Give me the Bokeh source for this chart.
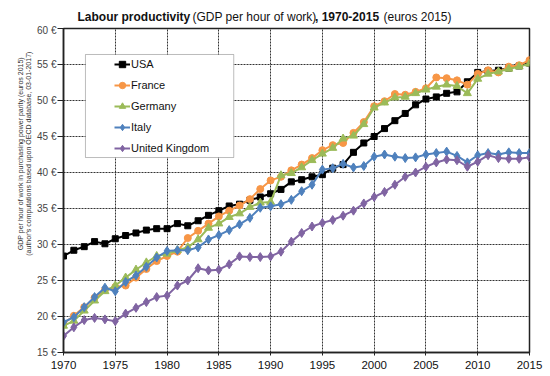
from bokeh.plotting import figure
from bokeh.layouts import column, row
from bokeh.models import (Range1d, SingleIntervalTicker, PrintfTickFormatter, Legend, LegendItem,
                          BoxAnnotation)
from bokeh.core.properties import value
from bokeh.embed import file_html
from bokeh.resources import INLINE

years = list(range(1970, 2016))

usa = [28.4, 29.2, 29.7, 30.4, 30.1, 30.8, 31.25, 31.6, 32.0, 32.2,
       32.2, 32.9, 32.6, 33.3, 34.05, 34.7, 35.35, 35.6, 36.15, 36.6,
       37.05, 37.65, 38.7, 39.0, 39.4, 39.7, 40.6, 41.1, 42.8, 44.1,
       45.0, 46.1, 47.2, 48.2, 49.4, 50.2, 50.5, 51.0, 51.2, 52.6,
       53.9, 54.1, 54.2, 54.5, 54.8, 55.2]
france = [19.0, 20.1, 21.3, 22.6, 23.7, 24.1, 24.3, 25.4, 26.6, 27.7,
          28.4, 29.0, 30.9, 31.9, 32.9, 33.9, 34.7, 35.4, 36.3, 37.7,
          38.9, 39.4, 40.3, 41.1, 42.0, 43.1, 43.8, 44.1, 45.5, 47.0,
          49.2, 49.9, 50.9, 50.8, 51.2, 51.7, 53.2, 53.1, 52.8, 52.2,
          53.7, 54.2, 53.9, 54.7, 54.9, 55.6]
germany = [18.7, 19.4, 20.8, 22.2, 23.5, 24.3, 25.4, 26.5, 27.5, 28.4,
           28.7, 29.2, 29.6, 30.7, 32.3, 32.9, 33.8, 34.3, 35.2, 35.8,
           35.9, 39.6, 39.9, 40.7, 41.7, 42.6, 43.4, 44.7, 45.1, 46.7,
           49.0, 49.7, 50.4, 50.5, 51.0, 51.5, 51.9, 52.2, 52.0, 51.0,
           53.0, 53.7, 54.0, 54.4, 54.7, 55.1]
italy = [19.2, 19.9, 21.3, 22.7, 24.0, 23.5, 24.8, 25.7, 26.9, 28.2,
         29.1, 29.2, 29.2, 29.6, 30.7, 31.3, 32.0, 32.8, 33.7, 35.1,
         35.3, 35.6, 36.2, 37.4, 38.3, 40.4, 40.6, 41.2, 40.7, 40.9,
         42.2, 42.5, 42.2, 42.0, 42.1, 42.5, 42.7, 42.9, 42.3, 41.4,
         42.4, 42.7, 42.5, 42.8, 42.7, 42.7]
uk = [17.3, 18.5, 19.5, 19.8, 19.6, 19.35, 20.4, 21.2, 22.0, 22.7,
      22.9, 24.3, 25.0, 26.7, 26.4, 26.5, 27.25, 28.35, 28.25, 28.25,
      28.35, 29.0, 30.4, 31.6, 32.5, 33.0, 33.4, 34.0, 34.7, 35.7,
      36.6, 37.3, 38.3, 39.4, 40.0, 40.8, 41.4, 41.8, 41.7, 40.8,
      41.5, 42.4, 42.0, 41.9, 41.9, 42.1]

series_names = ["USA", "France", "Germany", "Italy", "United Kingdom"]
series_values = [usa, france, germany, italy, uk]
series_colors = ["#000000", "#F79646", "#9BBB59", "#4F81BD", "#8064A2"]
series_markers = ["square", "circle", "triangle", "diamond", "diamond"]
series_sizes = [6, 7, 8, 9, 9]

title_texts = ["Labour productivity", "(GDP per hour of work)", ", 1970-2015", "(euros 2015)"]
title_styles = ["bold", "normal", "bold", "normal"]
ylab_texts = ["GDP per hour of work in purchasing power parity (euros 2015)",
              "(author's computations based upon OECD database, 03-01-2017)"]

FONT = "Liberation Sans"
W, H = 550, 376
TH = 24          # title strip height
LW = 34          # left strip width (rotated axis title)
PH = H - TH
PW = W - LW


def blank(width, height):
    f = figure(width=width, height=height, output_backend="svg", toolbar_location=None,
               x_range=Range1d(0, width), y_range=Range1d(0, height), min_border=0)
    f.axis.visible = False
    f.grid.visible = False
    f.outline_line_color = None
    f.background_fill_color = "white"
    f.border_fill_color = "white"
    return f


# title strip
tf = blank(W, TH)
title_x = [77, 192, 314.5, 383]
for txt, x, style in zip(title_texts, title_x, title_styles):
    tf.text(x=[x], y=[TH - 16], text=[txt], text_font=value(FONT), text_font_size="12px",
            text_font_style=style, text_align="left", text_baseline="middle",
            text_color="#111111")

# left strip with rotated axis title
lf = blank(LW, PH)
for txt, x in zip(ylab_texts, [20, 28]):
    lf.text(x=[x], y=[PH - 136], text=[txt], angle=1.5707963, text_font=value(FONT),
            text_font_size="7px", text_align="center", text_baseline="middle",
            text_color="#333333")

# main plot
p = figure(width=PW, height=PH, output_backend="svg", toolbar_location=None,
           x_range=Range1d(1970, 2015), y_range=Range1d(15, 60),
           min_border_left=27, min_border_right=21, min_border_top=4, min_border_bottom=24)
p.background_fill_color = "white"
p.border_fill_color = "white"
p.outline_line_color = "#222222"
p.outline_line_width = 1.5

p.xaxis.ticker = SingleIntervalTicker(interval=5)
p.yaxis.ticker = SingleIntervalTicker(interval=5)
p.yaxis.formatter = PrintfTickFormatter(format="%d €")
for ax in (p.xaxis, p.yaxis):
    ax.axis_line_color = "#222222"
    ax.axis_line_width = 1.5
    ax.major_tick_line_color = "#222222"
    ax.minor_tick_line_color = None
    ax.major_tick_in = 0
    ax.major_label_text_font = FONT
p.xaxis.major_tick_out = 3
p.xaxis.major_label_standoff = 4
p.xaxis.major_label_text_font_size = "11.5px"
p.xaxis.major_label_text_color = "#111111"
p.yaxis.major_tick_out = 6
p.yaxis.major_label_standoff = 1
p.yaxis.major_label_text_font_size = "10px"
p.yaxis.major_label_text_color = "#444444"

p.grid.grid_line_color = "#333333"
p.grid.grid_line_dash = "2 1"
p.grid.grid_line_width = 1

items = []
for name, vals, color, marker, size in zip(series_names, series_values, series_colors,
                                           series_markers, series_sizes):
    lr = p.line(years, vals, line_color=color, line_width=2)
    sr = p.scatter(years, vals, marker=marker, size=size, fill_color=color, line_color=color)
    items.append(LegendItem(label=name, renderers=[lr, sr]))

box = BoxAnnotation(left=1972.12, right=1986.44, bottom=42.08, top=56.39,
                    fill_color="white", fill_alpha=1.0, line_color="#222222", line_width=1)
p.add_layout(box)

legend = Legend(items=items, location=(51, 194), padding=0, spacing=1,
                label_height=20, glyph_height=20, glyph_width=16, label_standoff=1,
                border_line_alpha=0, background_fill_alpha=0,
                label_text_font=FONT, label_text_font_size="11px", label_text_color="#111111")
p.add_layout(legend)

layout = column(tf, row(lf, p, spacing=0), spacing=0)
open("out.html", "w").write(file_html(layout, INLINE))
